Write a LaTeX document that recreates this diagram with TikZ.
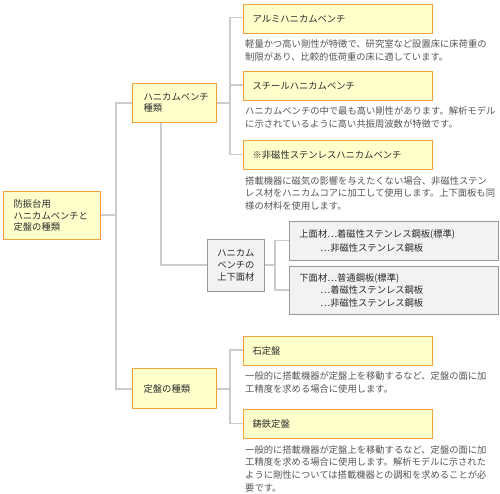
\documentclass[tikz,border=0pt]{standalone}
\usepackage{fontspec}
\setmainfont{Noto Sans CJK JP}
\usetikzlibrary{shadows}
\definecolor{yfill}{HTML}{FFFFCC}
\definecolor{yline}{HTML}{F7A13E}
\definecolor{connc}{HTML}{CCCCCC}
\definecolor{gfill}{HTML}{F2F2F2}
\definecolor{gline}{HTML}{999999}
\definecolor{ttext}{HTML}{2A2A2A}
\definecolor{dtext}{HTML}{555555}
\begin{document}
\begin{tikzpicture}[x=1pt,y=-1pt,
  font=\fontsize{9.3}{12.5}\selectfont,
  ybox/.style={draw=yline, fill=yfill, line width=1.2pt, text=ttext,
    anchor=north west, align=left, inner ysep=0pt,
    drop shadow={shadow xshift=0.8pt, shadow yshift=-0.8pt, opacity=0.12, fill=black}},
  bigbox/.style={ybox, minimum width=189pt, minimum height=29pt, inner xsep=9pt, text width=171pt},
  midbox/.style={ybox, minimum width=84pt, inner xsep=11pt, text width=62pt},
  gbox/.style={draw=gline, fill=gfill, line width=0.8pt, text=ttext, anchor=north west, inner ysep=0pt},
  desc/.style={anchor=north west, inner sep=0pt, align=left, text=dtext,
    font=\fontsize{9.3}{12.7}\selectfont},
  conn/.style={draw=connc, line width=1.8pt}
]
\useasboundingbox (0,0) rectangle (500,493);
\fill[white] (0,0) rectangle (500,493);

% junction coordinates
\coordinate (j1) at (116,215);
\coordinate (j2) at (230,103);
\coordinate (j3) at (161,265);
\coordinate (j4) at (275,265);
\coordinate (j5) at (230,389);

% connectors (drawn first, below the boxes)
\draw[conn] (100,215) -- (j1);
\draw[conn] (j1) |- (132,103);
\draw[conn] (j1) |- (132,389);
\draw[conn] (216,103) -- (j2);
\draw[conn] (j2) |- (243,17.5);
\draw[conn] (j2) |- (243,85);
\draw[conn] (j2) |- (243,154.5);
\draw[conn] (161,121) -- (j3) -- (207,265);
\draw[conn] (264,265) -- (j4);
\draw[conn] (j4) |- (289,240.5);
\draw[conn] (j4) |- (289,290);
\draw[conn] (216,389) -- (j5);
\draw[conn] (j5) |- (243,350);
\draw[conn] (j5) |- (243,423.5);

% main box
\node[ybox, minimum width=97pt, minimum height=48pt, inner xsep=10pt, text width=77pt,
  font=\fontsize{9.3}{11.6}\selectfont] (main) at (3,191)
  {防振台用\\ハニカムベンチと\\定盤の種類};

% second level
\node[midbox, minimum height=39pt, font=\fontsize{9.3}{11.2}\selectfont] (hb) at (132,83)
  {ハニカムベンチ\\種類};
\node[midbox, minimum height=40pt] (jb) at (132,368) {定盤の種類};

% honeycomb kinds
\node[bigbox] (al) at (243,3.5) {アルミハニカムベンチ};
\node[desc] (ald) at ([xshift=2pt,yshift=-6pt]al.south west)
  {軽量かつ高い剛性が特徴で、研究室など設置床に床荷重の\\制限があり、比較的低荷重の床に適しています。};

\node[bigbox] (st) at (243,70.5) {スチールハニカムベンチ};
\node[desc] (std) at ([xshift=2pt,yshift=-6pt]st.south west)
  {ハニカムベンチの中で最も高い剛性があります。解析モデル\\に示されているように高い共振周波数が特徴です。};

\node[bigbox] (nm) at (243,140) {※非磁性ステンレスハニカムベンチ};
\node[desc] (nmd) at ([xshift=2pt,yshift=-6pt]nm.south west)
  {搭載機器に磁気の影響を与えたくない場合、非磁性ステン\\レス材をハニカムコアに加工して使用します。上下面板も同\\様の材料を使用します。};

% top/bottom plates
\node[gbox, minimum width=57pt, minimum height=52pt, align=center, inner xsep=2pt,
  font=\fontsize{9.3}{12}\selectfont] (pl) at (207,239)
  {ハニカム\\ベンチの\\上下面材};
\node[gbox, minimum width=209pt, minimum height=39pt, align=left, inner xsep=10pt, text width=189pt,
  font=\fontsize{9.3}{13.5}\selectfont] (up) at (289,221)
  {上面材⋯着磁性ステンレス鋼板(標準)\\\hspace*{21pt}⋯非磁性ステンレス鋼板};
\node[gbox, minimum width=209pt, minimum height=48pt, align=left, inner xsep=10pt, text width=189pt,
  font=\fontsize{9.3}{12.3}\selectfont] (lo) at (289,266)
  {下面材⋯普通鋼板(標準)\\\hspace*{21pt}⋯着磁性ステンレス鋼板\\\hspace*{21pt}⋯非磁性ステンレス鋼板};

% surface plates
\node[bigbox] (ss) at (243,335.5) {石定盤};
\node[desc] (ssd) at ([xshift=2pt,yshift=-6pt]ss.south west)
  {一般的に搭載機器が定盤上を移動するなど、定盤の面に加\\工精度を求める場合に使用します。};

\node[bigbox] (ci) at (243,409) {鋳鉄定盤};
\node[desc] (cid) at ([xshift=2pt,yshift=-6pt]ci.south west)
  {一般的に搭載機器が定盤上を移動するなど、定盤の面に加\\工精度を求める場合に使用します。解析モデルに示された\\ように剛性については搭載機器との調和を求めることが必\\要です。};
\end{tikzpicture}
\end{document}
